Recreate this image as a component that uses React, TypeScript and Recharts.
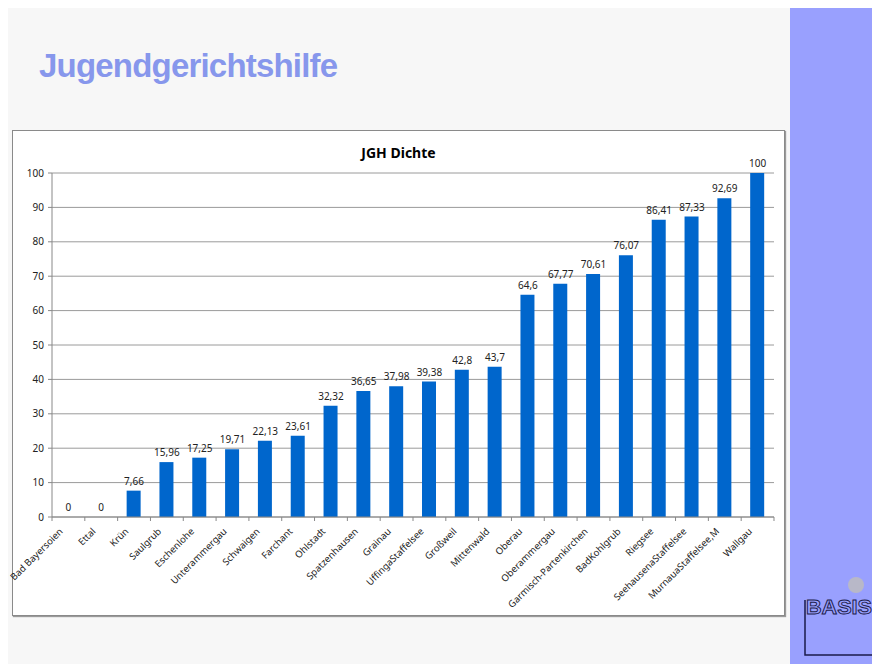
import React from "react";
import { ComposedChart, Bar, Line, XAxis, YAxis, CartesianGrid, LabelList } from "recharts";

const categories = [
  "Bad Bayersoien", "Ettal", "Krün", "Saulgrub", "Eschenlohe", "Unterammergau", "Schwaigen",
  "Farchant", "Ohlstadt", "Spatzenhausen", "Grainau", "UffingaStaffelsee", "Großweil",
  "Mittenwald", "Oberau", "Oberammergau", "Garmisch-Partenkirchen", "BadKohlgrub", "Riegsee",
  "SeehausenaStaffelsee", "MurnauaStaffelsee,M", "Wallgau",
];
const values = [
  0, 0, 7.66, 15.96, 17.25, 19.71, 22.13, 23.61, 32.32, 36.65, 37.98, 39.38, 42.8, 43.7,
  64.6, 67.77, 70.61, 76.07, 86.41, 87.33, 92.69, 100,
];
const yTicks = [0, 10, 20, 30, 40, 50, 60, 70, 80, 90, 100];

const data = categories.map((name, i) => ({ name, value: values[i] }));

const CHART_W = 771;
const CHART_H = 484;
const EXTRA_L = 12;
const MARGIN = { top: 42, right: 10, bottom: 0, left: EXTRA_L };
const Y_W = 39;
const band = (CHART_W - MARGIN.right - Y_W) / categories.length;

const FONT = "'Noto Sans', 'Open Sans', sans-serif";

const XTick = (props: any) => {
  const { x, y, payload, index } = props;
  return (
    <g transform={`translate(${x},${y})`}>
      <line x1={-band / 2} y1={-8} x2={-band / 2} y2={-4} stroke="#888" />
      {index === categories.length - 1 && (
        <line x1={band / 2} y1={-8} x2={band / 2} y2={-4} stroke="#888" />
      )}
      <text
        x={0}
        y={0}
        transform="translate(-5,7) rotate(-45)"
        textAnchor="end"
        fontSize={9.5}
        fill="#222"
        fontFamily={FONT}
      >
        {payload.value}
      </text>
    </g>
  );
};

const fmt = (v: any) => String(v).replace(".", ",");

const ValueLabel = (props: any) => {
  const { x, y, value } = props;
  return (
    <text
      x={Number(x)}
      y={Number(y) - 6}
      textAnchor="middle"
      fontSize={10}
      fill="#222"
      fontFamily={FONT}
    >
      {fmt(value)}
    </text>
  );
};

export default function App() {
  return (
    <div style={{ position: "relative", width: 872, height: 656, background: "#f7f7f7", overflow: "hidden" }}>
      <div
        style={{
          position: "absolute",
          left: 782,
          top: -8,
          width: 90,
          height: 672,
          background: "#99a0fe",
        }}
      />
      <div
        style={{
          position: "absolute",
          left: 31,
          top: 41,
          fontFamily: "'Liberation Sans', Arial, sans-serif",
          fontWeight: "bold",
          fontSize: 33,
          letterSpacing: -0.8,
          color: "#8797ec",
          lineHeight: 1,
        }}
      >
        Jugendgerichtshilfe
      </div>
      <svg
        style={{ position: "absolute", left: 788, top: 552, overflow: "visible" }}
        width={84}
        height={100}
        viewBox="0 0 84 100"
      >
        <circle cx={60} cy={25} r={8} fill="#b8b8c8" />
        <path d="M9 40 L9 95 L77 95 L77 40" fill="none" stroke="#1a1a4a" strokeWidth={1.5} />
        <text
          x={10}
          y={54}
          textLength={66}
          lengthAdjust="spacingAndGlyphs"
          fontFamily="'Liberation Sans Narrow', 'Liberation Sans', Arial, sans-serif"
          fontWeight="bold"
          fontSize={20}
          fill="#99a0fe"
          stroke="#1a1a4a"
          strokeWidth={0.9}
        >
          BASIS
        </text>
      </svg>
      <div
        style={{
          position: "absolute",
          left: 4,
          top: 122,
          width: CHART_W,
          height: CHART_H,
          background: "#fff",
          border: "1px solid #8a8a8a",
          boxShadow: "1px 1px 1px #9a9a9a",
        }}
      >
        <div
          style={{
            position: "absolute",
            left: 0,
            width: "100%",
            top: 12,
            textAlign: "center",
            fontFamily: FONT,
            fontWeight: "bold",
            fontSize: 14,
            color: "#000",
          }}
        >
          JGH Dichte
        </div>
        <div style={{ position: "absolute", left: -EXTRA_L, top: 0 }}>
          <ComposedChart
            width={CHART_W + EXTRA_L}
            height={CHART_H}
            data={data}
            margin={MARGIN}
            barCategoryGap={0}
          >
            <CartesianGrid vertical={false} stroke="#9a9a9a" />
            <XAxis
              dataKey="name"
              interval={0}
              height={98}
              tick={<XTick />}
              tickLine={false}
              axisLine={{ stroke: "#888" }}
            />
            <YAxis
              domain={[0, 100]}
              ticks={yTicks}
              width={Y_W}
              tickSize={4}
              tickMargin={4}
              tick={{ fontSize: 10, fill: "#222", fontFamily: FONT }}
              tickLine={{ stroke: "#888" }}
              axisLine={{ stroke: "#888" }}
              interval={0}
            />
            <Bar dataKey="value" fill="#0066cc" barSize={14} isAnimationActive={false} />
            <Line
              dataKey="value"
              stroke="none"
              dot={false}
              activeDot={false}
              legendType="none"
              isAnimationActive={false}
            >
              <LabelList dataKey="value" content={<ValueLabel />} />
            </Line>
          </ComposedChart>
        </div>
      </div>
    </div>
  );
}
